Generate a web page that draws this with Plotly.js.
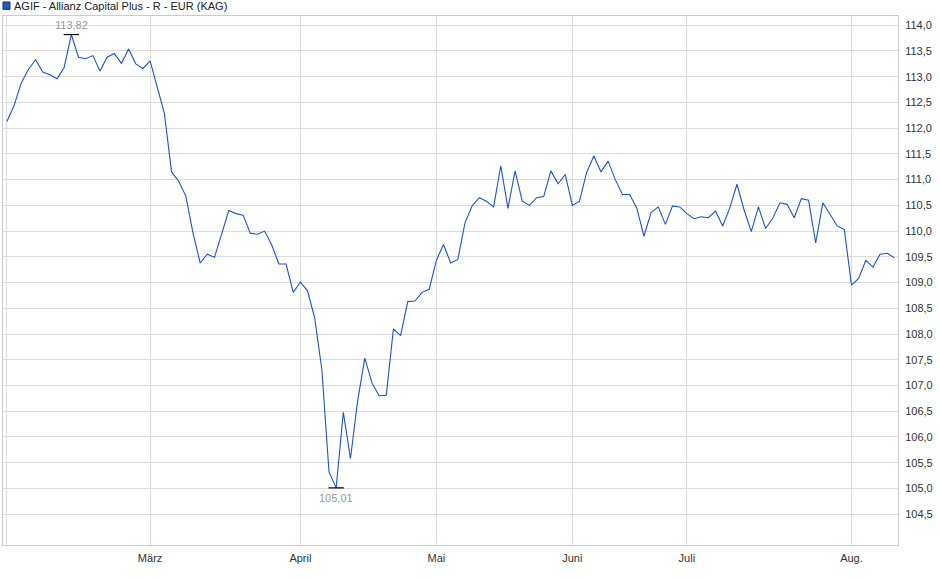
<!DOCTYPE html>
<html lang="de">
<head>
<meta charset="utf-8">
<title>AGIF - Allianz Capital Plus - R - EUR (KAG)</title>
<script src="https://cdn.plot.ly/plotly-3.0.1.min.js"></script>
<style>
    html, body { margin: 0; padding: 0; background: #ffffff; }
    #chart { width: 940px; height: 579px; }
</style>
</head>
<body>
<div id="chart"></div>
<script>
// === DATEN ===
const fundName = 'AGIF - Allianz Capital Plus - R - EUR (KAG)';

// Kurse je Handelstag (Feb. bis Aug.)
const prices = [
    112.13, 112.44, 112.88, 113.14, 113.33, 113.09, 113.04, 112.96, 113.18, 113.82,
    113.38, 113.35, 113.41, 113.11, 113.38, 113.45, 113.26, 113.54, 113.25, 113.16,
    113.31, 112.78, 112.29, 111.15, 110.97, 110.68, 109.96, 109.38, 109.55, 109.49,
    109.93, 110.40, 110.34, 110.31, 109.96, 109.94, 110.00, 109.73, 109.36, 109.36,
    108.81, 109.01, 108.84, 108.31, 107.31, 105.32, 105.01, 106.48, 105.58, 106.70,
    107.53, 107.05, 106.80, 106.81, 108.10, 107.97, 108.63, 108.64, 108.81, 108.87,
    109.43, 109.74, 109.38, 109.45, 110.16, 110.49, 110.65, 110.58, 110.47, 111.27,
    110.44, 111.17, 110.58, 110.50, 110.65, 110.67, 111.17, 110.92, 111.10, 110.50,
    110.58, 111.14, 111.46, 111.15, 111.36, 111.00, 110.71, 110.71, 110.45, 109.90,
    110.36, 110.47, 110.13, 110.49, 110.47, 110.34, 110.24, 110.28, 110.26, 110.39,
    110.10, 110.45, 110.91, 110.41, 109.99, 110.47, 110.05, 110.25, 110.55, 110.52,
    110.26, 110.63, 110.60, 109.77, 110.55, 110.32, 110.10, 110.03, 108.95, 109.08,
    109.43, 109.30, 109.55, 109.57, 109.48
];

// erster Handelstag je Monat (Index in prices)
const monthTickIdx = [0, 20, 41, 60, 79, 95, 118];
const monthLabels = ['', 'März', 'April', 'Mai', 'Juni', 'Juli', 'Aug.'];

const priceTicks = [104.5, 105.0, 105.5, 106.0, 106.5, 107.0, 107.5, 108.0, 108.5,
    109.0, 109.5, 110.0, 110.5, 111.0, 111.5, 112.0, 112.5, 113.0, 113.5, 114.0];

// === CHART ===
function fmt(v) {
    return v.toFixed(2).replace('.', ',');
}

function buildChart() {
    const days = prices.map((p, i) => i);

    // Hoch und Tief markieren
    const maxVal = Math.max(...prices);
    const minVal = Math.min(...prices);
    const maxIdx = prices.indexOf(maxVal);
    const minIdx = prices.indexOf(minVal);

    const line = {
        x: days,
        y: prices,
        type: 'scatter',
        mode: 'lines',
        line: { color: '#1c56c4', width: 1.1 },
        hoverinfo: 'skip'
    };

    const extremes = {
        x: [maxIdx, minIdx],
        y: [maxVal, minVal],
        type: 'scatter',
        mode: 'markers',
        marker: {
            symbol: 'line-ew-open',
            size: 11,
            color: '#000000',
            line: { color: '#000000', width: 1.2 }
        },
        hoverinfo: 'skip'
    };

    const labelFont = { family: 'Liberation Sans, Arial, sans-serif', size: 11, color: '#999999' };
    const tickFont = { family: 'Liberation Sans, Arial, sans-serif', size: 11, color: '#333333' };

    const layout = {
        width: 940,
        height: 579,
        margin: { l: 3, r: 42, t: 16, b: 34 },
        paper_bgcolor: '#ffffff',
        plot_bgcolor: '#ffffff',
        showlegend: false,
        separators: ',.',
        xaxis: {
            range: [-0.55, 124.5],
            tickvals: monthTickIdx,
            ticktext: monthLabels,
            showgrid: true,
            gridcolor: '#dcdcdc',
            gridwidth: 1,
            zeroline: false,
            showline: true,
            mirror: true,
            linecolor: '#cccccc',
            linewidth: 1,
            ticks: '',
            ticklabelstandoff: 3,
            tickfont: tickFont
        },
        yaxis: {
            side: 'right',
            range: [103.9, 114.18],
            tickvals: priceTicks,
            tickformat: '.1f',
            showgrid: true,
            gridcolor: '#dcdcdc',
            gridwidth: 1,
            zeroline: false,
            showline: true,
            mirror: true,
            linecolor: '#cccccc',
            linewidth: 1,
            ticks: '',
            ticklabelstandoff: 4,
            tickfont: tickFont
        },
        shapes: [
            // Legenden-Kästchen
            {
                type: 'rect',
                xref: 'paper', yref: 'paper',
                x0: 0, x1: 0.0078,
                y0: 1.0125, y1: 1.0265,
                fillcolor: '#1f5bcc',
                line: { color: '#1b2f66', width: 1 }
            }
        ],
        annotations: [
            {
                xref: 'paper', yref: 'paper',
                x: 0.0105, y: 1.019,
                xanchor: 'left', yanchor: 'middle',
                text: fundName,
                showarrow: false,
                font: { family: 'Liberation Sans, Arial, sans-serif', size: 11, color: '#222222' }
            },
            {
                x: maxIdx, y: maxVal,
                xref: 'x', yref: 'y',
                text: fmt(maxVal),
                showarrow: false,
                yanchor: 'bottom',
                yshift: 2,
                font: labelFont
            },
            {
                x: minIdx, y: minVal,
                xref: 'x', yref: 'y',
                text: fmt(minVal),
                showarrow: false,
                yanchor: 'top',
                yshift: -2,
                font: labelFont
            }
        ]
    };

    Plotly.newPlot('chart', [line, extremes], layout, { displayModeBar: false, staticPlot: true });
}

buildChart();
</script>
</body>
</html>
